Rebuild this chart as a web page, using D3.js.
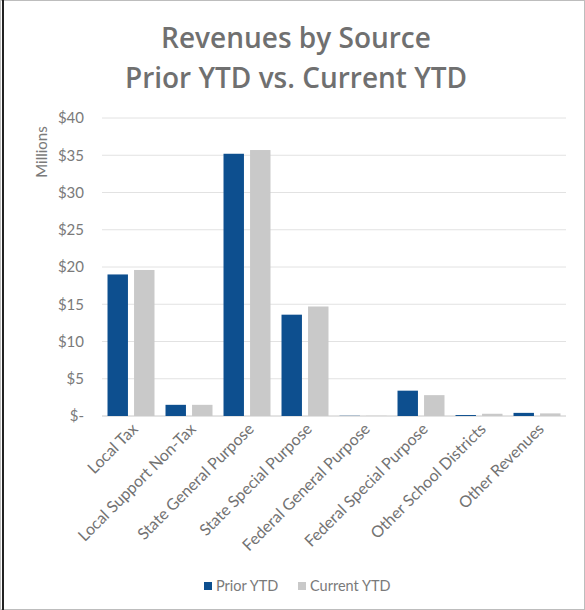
<!DOCTYPE html>
<html>
<head>
<meta charset="utf-8">
<script src="https://cdn.jsdelivr.net/npm/d3@7"></script>
<style>
  body { margin: 0; background: #fff; }
  svg { display: block; }
</style>
</head>
<body>
<div class="chart-div"></div>
<script>
var categories = ["Local Tax", "Local Support Non-Tax", "State General Purpose", "State Special Purpose",
                  "Federal General Purpose", "Federal Special Purpose", "Other School Districts", "Other Revenues"];
var seriesNames = ["Prior YTD", "Current YTD"];
var priorYTD = [19.0, 1.5, 35.2, 13.6, 0.03, 3.4, 0.13, 0.42];
var currentYTD = [19.6, 1.5, 35.7, 14.7, 0.03, 2.8, 0.3, 0.35];
var yTicks = [0, 5, 10, 15, 20, 25, 30, 35, 40];

var width = 585;
var height = 610;
var margin = {top: 118, right: 19, bottom: 194, left: 102};
var plotW = width - margin.left - margin.right;
var plotH = height - margin.top - margin.bottom;
var colors = ["#0d4f8f", "#c9c9c9"];

var svg = d3.select(".chart-div")
            .append("svg")
                .attr("width", width)
                .attr("height", height);

//frame round the picture
svg.append("rect")
    .attr("x", 0.5).attr("y", 0.5)
    .attr("width", width - 1).attr("height", height - 1)
    .attr("fill", "none")
    .attr("stroke", "#bdbdbd");
svg.append("line")
    .attr("x1", 3).attr("x2", 3)
    .attr("y1", 0).attr("y2", height)
    .attr("stroke", "#222")
    .attr("stroke-width", 2);

//title
var title = svg.append("text")
    .attr("text-anchor", "middle")
    .attr("font-family", "Open Sans")
    .attr("font-weight", 600)
    .attr("font-size", "28px")
    .attr("fill", "#707070");
title.append("tspan").attr("x", 296).attr("y", 48).text("Revenues by Source");
title.append("tspan").attr("x", 296).attr("y", 88).text("Prior YTD vs. Current YTD");

var chart = svg.append("g")
    .attr("transform", "translate(" + margin.left + "," + margin.top + ")");

var y = d3.scaleLinear().domain([0, 40]).range([plotH, 0]);
var x0 = d3.scaleBand().domain(categories).range([0, plotW]).paddingInner(0.19).paddingOuter(0.095);
var x1 = d3.scaleBand().domain(seriesNames).range([0, x0.bandwidth()]).paddingInner(0.23);

//gridlines
chart.append("g")
    .selectAll("line")
    .data(yTicks)
    .join("line")
        .attr("x1", 0).attr("x2", plotW)
        .attr("y1", function(d){ return y(d); })
        .attr("y2", function(d){ return y(d); })
        .attr("stroke", function(d){ return d === 0 ? "#c8c8c8" : "#e2e2e2"; })
        .attr("stroke-width", 1);

//y axis labels
var yAxis = chart.append("g")
    .call(d3.axisLeft(y).tickValues(yTicks).tickSize(0).tickPadding(18)
        .tickFormat(function(d){ return d === 0 ? "$-" : "$" + d; }));
yAxis.select(".domain").remove();
yAxis.selectAll("text")
    .attr("font-family", "Lato")
    .attr("font-size", "15px")
    .attr("fill", "#7a7a7a");

svg.append("text")
    .attr("transform", "translate(47,152) rotate(-90)")
    .attr("text-anchor", "middle")
    .attr("font-family", "Lato")
    .attr("font-size", "15px")
    .attr("fill", "#7a7a7a")
    .text("Millions");

//bars
var rows = categories.map(function(c, i){
    return {cat: c, vals: [priorYTD[i], currentYTD[i]]};
});
chart.append("g")
    .selectAll("g")
    .data(rows)
    .join("g")
        .attr("transform", function(d){ return "translate(" + x0(d.cat) + ",0)"; })
    .selectAll("rect")
    .data(function(d){ return d.vals.map(function(v, j){ return {name: seriesNames[j], v: v, j: j}; }); })
    .join("rect")
        .attr("x", function(d){ return x1(d.name); })
        .attr("y", function(d){ return y(d.v); })
        .attr("width", x1.bandwidth())
        .attr("height", function(d){ return plotH - y(d.v); })
        .attr("fill", function(d){ return colors[d.j]; });

//x axis labels
var xAxis = chart.append("g")
    .attr("transform", "translate(0," + plotH + ")")
    .call(d3.axisBottom(x0).tickSize(0).tickPadding(0));
xAxis.select(".domain").remove();
xAxis.selectAll("text")
    .attr("font-family", "Lato")
    .attr("font-size", "16px")
    .attr("fill", "#727272")
    .attr("text-anchor", "end")
    .attr("dy", null)
    .attr("transform", "translate(8,14) rotate(-45)");

//legend
var legend = svg.append("g").attr("transform", "translate(204,582)");
var legX = [0, 94];
seriesNames.forEach(function(n, i){
    legend.append("rect")
        .attr("x", legX[i]).attr("y", 0)
        .attr("width", 8).attr("height", 8)
        .attr("fill", colors[i]);
    legend.append("text")
        .attr("x", legX[i] + 12).attr("y", 9)
        .attr("font-family", "Lato")
        .attr("font-size", "14.5px")
        .attr("fill", "#7a7a7a")
        .text(n);
});
</script>
</body>
</html>
